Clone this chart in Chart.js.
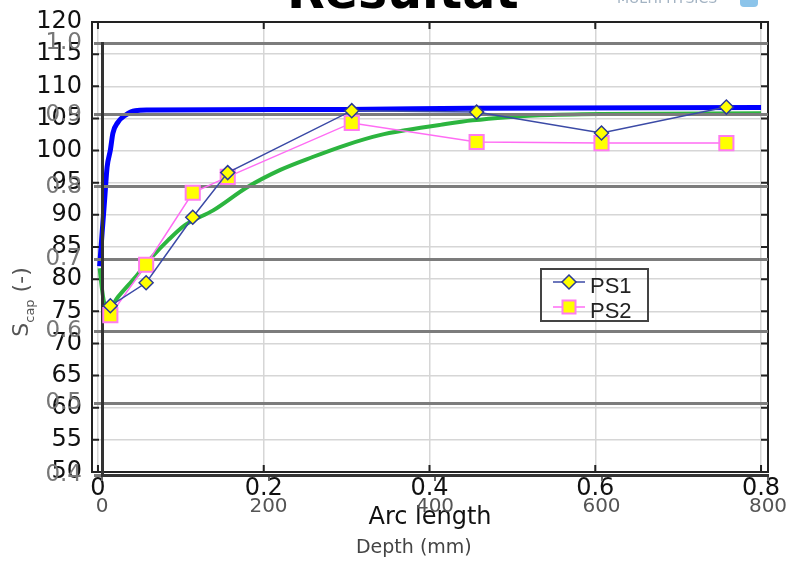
<!DOCTYPE html>
<html>
<head>
<meta charset="utf-8">
<script src="https://cdn.jsdelivr.net/npm/chart.js@4.4.1/dist/chart.umd.min.js"></script>
<style>
  body { margin: 0; background: #fff; }
  #wrap { position: relative; width: 788px; height: 562px; overflow: hidden; background: #fff; }
  #wrap canvas { position: absolute; left: 0; top: 0; }
  #title { position: absolute; left: 287px; top: -33px; font: bold 49px 'DejaVu Sans'; line-height: 49px; color: #000; white-space: nowrap; }
  #logo { position: absolute; left: 617px; top: -9px; font: 14px 'DejaVu Sans'; line-height: 14px; color: #a3b3c3; white-space: nowrap; }
  #cube { position: absolute; left: 740px; top: -10px; width: 18px; height: 17px; border-radius: 4px; background: #8cc4ea; }
</style>
</head>
<body>
<div id="wrap">
  <canvas id="arc" width="788" height="562"></canvas>
  <canvas id="depth" width="788" height="562"></canvas>
  <div id="title">Resultat</div>
  <div id="logo">MULTIPHYSICS</div>
  <div id="cube"></div>
</div>
<script>
Chart.defaults.font.family = 'DejaVu Sans';

// simulated curves (arc length vs S)
const arcBlue = [0.002, 0.005, 0.008, 0.011, 0.015, 0.018, 0.024, 0.033, 0.045, 0.06, 0.3, 0.45, 0.8];
const blueS   = [82.0, 87.2, 92.3, 97.4, 100.1, 102.7, 104.4, 105.5, 106.2, 106.3, 106.4, 106.6, 106.7];
const arcGreen = [0.002, 0.005, 0.008, 0.012, 0.024, 0.045, 0.065, 0.085, 0.105, 0.139, 0.180, 0.220,
                  0.259, 0.300, 0.340, 0.373, 0.413, 0.452, 0.494, 0.533, 0.606, 0.8];
const greenS   = [81.7, 78.3, 76.0, 75.2, 77.2, 80.3, 83.4, 86.1, 88.4, 90.7, 94.3, 97.0,
                  99.0, 100.9, 102.4, 103.2, 104.0, 104.7, 105.2, 105.5, 105.7, 105.8];

// measured profiles (depth in mm vs S_cap)
const depthMm = [10, 53, 109, 151, 300, 450, 600, 750];
const ps1 = [0.635, 0.667, 0.758, 0.82, 0.906, 0.904, 0.875, 0.911];
const ps2 = [0.622, 0.692, 0.792, 0.814, 0.889, 0.8625, 0.861, 0.861];

// tick values
const arcTicks = [0, 0.2, 0.4, 0.6, 0.8];
const sTicks = [50, 55, 60, 65, 70, 75, 80, 85, 90, 95, 100, 105, 110, 115, 120];
const depthTicks = [0, 200, 400, 600, 800];
const scapTicks = [0.4, 0.5, 0.6, 0.7, 0.8, 0.9, 1.0];

function pts(xs, ys) {
    return xs.map((x, i) => ({x: x, y: ys[i]}));
}

// keep label overflow from shrinking the plot area
function fixX(h) {
    return s => { s.height = h; s.paddingLeft = 0; s.paddingRight = 0; };
}
function fixY(w) {
    return s => { s.width = w; s.paddingTop = 0; s.paddingBottom = 0; };
}

// frame with inward ticks for the arc-length plot
const framePlugin = {
    id: 'frame',
    afterDraw(chart) {
        const {ctx, chartArea: a} = chart;
        const sx = chart.scales.x, sy = chart.scales.y;
        ctx.save();
        ctx.strokeStyle = '#222';
        ctx.lineWidth = 2;
        ctx.strokeRect(a.left, a.top, a.right - a.left, a.bottom - a.top);
        ctx.beginPath();
        sx.ticks.forEach(t => {
            const px = sx.getPixelForValue(t.value);
            ctx.moveTo(px, a.top); ctx.lineTo(px, a.top + 7);
            ctx.moveTo(px, a.bottom); ctx.lineTo(px, a.bottom - 7);
        });
        sy.ticks.forEach(t => {
            const py = sy.getPixelForValue(t.value);
            ctx.moveTo(a.left, py); ctx.lineTo(a.left + 7, py);
            ctx.moveTo(a.right, py); ctx.lineTo(a.right - 7, py);
        });
        ctx.stroke();
        ctx.restore();
    }
};

function marker(ctx, style, x, y, r) {
    ctx.beginPath();
    if (style === 'rectRot') {
        ctx.moveTo(x, y - r); ctx.lineTo(x + r, y); ctx.lineTo(x, y + r); ctx.lineTo(x - r, y);
        ctx.closePath();
    } else {
        ctx.rect(x - r, y - r, 2 * r, 2 * r);
    }
    ctx.fill();
    ctx.stroke();
}

// boxed legend + y title with subscript
const depthDecor = {
    id: 'depthDecor',
    afterDraw(chart) {
        const ctx = chart.ctx;
        ctx.save();
        // legend
        const x0 = 541, y0 = 269;
        ctx.strokeStyle = '#444';
        ctx.lineWidth = 2;
        ctx.strokeRect(x0, y0, 107, 52);
        chart.data.datasets.forEach((ds, i) => {
            const cy = y0 + 13 + i * 25;
            ctx.strokeStyle = ds.borderColor;
            ctx.lineWidth = ds.borderWidth;
            ctx.beginPath();
            ctx.moveTo(553, cy); ctx.lineTo(585, cy);
            ctx.stroke();
            ctx.fillStyle = ds.pointBackgroundColor;
            ctx.strokeStyle = ds.pointBorderColor;
            ctx.lineWidth = ds.pointBorderWidth;
            marker(ctx, ds.pointStyle, 569, cy, ds.pointStyle === 'rectRot' ? 7 : 6.5);
            ctx.fillStyle = '#222';
            ctx.font = '22px "Liberation Sans"';
            ctx.textBaseline = 'alphabetic';
            ctx.fillText(ds.label, 590, cy + 11);
        });
        // y title S_cap (-)
        ctx.translate(28, 302);
        ctx.rotate(-Math.PI / 2);
        ctx.fillStyle = '#555';
        const big = '22px "DejaVu Sans"', small = '13px "DejaVu Sans"';
        ctx.font = big; const wS = ctx.measureText('S').width, wT = ctx.measureText(' (-)').width;
        ctx.font = small; const wC = ctx.measureText('cap').width;
        let x = -(wS + wC + wT) / 2;
        ctx.font = big; ctx.fillText('S', x, 0); x += wS;
        ctx.font = small; ctx.fillText('cap', x, 6); x += wC;
        ctx.font = big; ctx.fillText(' (-)', x, 0);
        ctx.restore();
    }
};

new Chart(document.getElementById('arc'), {
    type: 'scatter',
    data: {
        datasets: [
            {label: 'blue', data: pts(arcBlue, blueS), showLine: true, borderColor: '#0000ff',
             borderWidth: 5, pointRadius: 0, cubicInterpolationMode: 'monotone'},
            {label: 'green', data: pts(arcGreen, greenS), showLine: true, borderColor: '#2cb53f',
             borderWidth: 4, pointRadius: 0, cubicInterpolationMode: 'monotone'}
        ]
    },
    options: {
        responsive: false,
        animation: false,
        layout: {padding: {left: 0, top: 22, right: 20, bottom: 30}},
        plugins: {legend: {display: false}, tooltip: {enabled: false}},
        scales: {
            x: {
                type: 'linear', min: -0.0072, max: 0.8084,
                afterBuildTicks: s => { s.ticks = arcTicks.map(v => ({value: v})); },
                afterFit: fixX(60),
                ticks: {font: {size: 24}, color: '#111', padding: 2, maxRotation: 0, autoSkip: false},
                grid: {color: '#d6d6d6', lineWidth: 1.5, drawTicks: false},
                border: {color: '#222', width: 2},
                title: {display: true, text: 'Arc length', font: {size: 24}, color: '#111', padding: 0}
            },
            y: {
                min: 50, max: 120,
                afterBuildTicks: s => { s.ticks = sTicks.map(v => ({value: v})); },
                afterFit: fixY(92),
                ticks: {font: {size: 24}, color: '#111', padding: 10, autoSkip: false},
                grid: {color: '#d6d6d6', lineWidth: 1.5, drawTicks: false},
                border: {color: '#222', width: 2}
            }
        }
    },
    plugins: [framePlugin]
});

new Chart(document.getElementById('depth'), {
    type: 'scatter',
    data: {
        datasets: [
            {label: 'PS1', data: pts(depthMm, ps1), showLine: true, borderColor: '#3b4aa6', borderWidth: 1.5,
             pointStyle: 'rectRot', pointRadius: 7, pointBackgroundColor: '#ffff00',
             pointBorderColor: '#2b3a96', pointBorderWidth: 1.5},
            {label: 'PS2', data: pts(depthMm, ps2), showLine: true, borderColor: '#ff6cf4', borderWidth: 1.5,
             pointStyle: 'rect', pointRadius: 10, pointBackgroundColor: '#ffff00',
             pointBorderColor: '#ff7cf0', pointBorderWidth: 2}
        ]
    },
    options: {
        responsive: false,
        animation: false,
        layout: {padding: {left: 0, top: 43, right: 20, bottom: 3}},
        plugins: {legend: {display: false}, tooltip: {enabled: false}},
        scales: {
            x: {
                type: 'linear', min: 0, max: 800,
                afterBuildTicks: s => { s.ticks = depthTicks.map(v => ({value: v})); },
                afterFit: fixX(84),
                ticks: {font: {size: 20}, color: '#555', padding: 14, maxRotation: 0, autoSkip: false},
                grid: {drawOnChartArea: false, tickLength: 6, color: '#666', lineWidth: 2},
                border: {color: '#333', width: 3},
                title: {display: true, text: 'Depth (mm)       ', font: {size: 19}, color: '#444', padding: 0}
            },
            y: {
                min: 0.4, max: 1.0,
                afterBuildTicks: s => { s.ticks = scapTicks.map(v => ({value: v})); },
                afterFit: fixY(102),
                ticks: {font: {size: 23}, color: '#777', padding: 12, autoSkip: false},
                grid: {color: '#7c7c7c', lineWidth: 3, tickLength: 8},
                border: {color: '#333', width: 3}
            }
        }
    },
    plugins: [depthDecor]
});
</script>
</body>
</html>
